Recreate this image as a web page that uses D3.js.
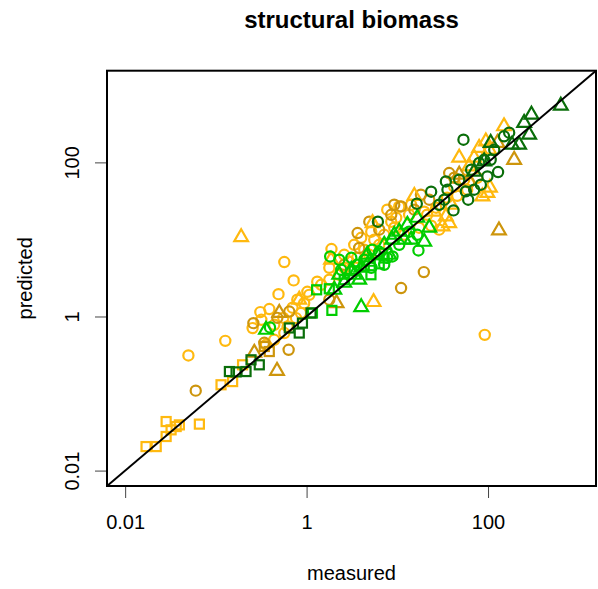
<!DOCTYPE html>
<html>
<head>
<meta charset="utf-8">
<script src="https://cdn.jsdelivr.net/npm/d3@7/dist/d3.min.js"></script>
<style>
  html, body { margin: 0; padding: 0; background: #fff; }
  svg { display: block; }
  text { font-family: "Liberation Sans", Arial, Helvetica, sans-serif; fill: #000; }
</style>
</head>
<body>
<svg id="chart" width="598" height="589"></svg>
<script>
// ---- data: [measured, predicted] ----
const yellowCircles = [
  [0.568, 5.09], [0.72, 2.94], [0.49, 1.95], [0.309, 1.14], [0.388, 1.25], [0.127, 0.483],
  [0.0498, 0.312], [92, 0.578], [1.88, 7.5], [0.254, 0.707], [0.764, 0.953], [0.867, 1.11],
  [0.94, 1.49], [1.07, 1.91], [0.357, 0.429], [0.44, 0.498], [0.568, 0.61], [0.618, 0.741],
  [0.553, 0.96], [10.5, 26.8], [13.5, 20.9], [8.57, 17.0], [7.17, 11.5], [5.57, 9.91],
  [4.32, 7.35], [3.61, 5.78], [2.95, 5.13], [2.6, 4.29], [17.4, 14.2], [21.3, 20.9],
  [26.8, 25.8], [23.6, 15.1], [28.9, 13.4], [11.9, 11.5], [4.91, 6.32], [9.25, 14.2],
  [6.32, 8.53], [2.29, 3.48], [1.78, 4.29], [1.45, 2.58], [42.4, 48.3], [75.9, 63.2],
  [58.9, 44.2], [35.4, 34.8], [3.35, 8.53], [4.0, 10.5], [5.16, 12.6], [7.74, 24.3],
  [9.72, 19.1], [14.2, 28.2], [19.8, 22.9], [1.31, 2.83], [1.02, 2.09], [0.79, 1.65],
  [0.70, 1.30], [0.44, 0.78], [0.317, 0.906], [1.78, 3.0], [2.6, 6.32], [54.6, 59.6],
  [45.7, 36.9]
];
const goldCircles = [
  [0.060, 0.109], [19.6, 3.77], [11.0, 2.34], [0.259, 0.82], [0.634, 0.37], [3.65, 12.1],
  [0.342, 0.456], [0.645, 1.16], [0.476, 0.96], [11.0, 26.8], [18.2, 38.1], [22.5, 32.8],
  [37.3, 72.8], [4.91, 17.0], [6.32, 13.4], [8.57, 20.9], [2.6, 4.69], [3.8, 7.76],
  [9.25, 28.2], [15.4, 24.3], [1.78, 1.65], [61.9, 54.5], [42.4, 63.2]
];
const greenCircles = [
  [2.29, 5.45], [1.82, 6.01], [8.85, 6.01], [17.1, 7.2], [3.11, 5.78], [4.32, 5.45],
  [6.32, 6.92], [10.5, 8.53], [13.5, 12.6], [2.41, 4.04], [0.395, 0.72], [7.17, 4.69],
  [5.29, 7.35], [3.61, 4.69], [7.74, 5.78], [16.6, 11.5], [5.16, 4.29]
];
const darkGreenCircles = [
  [53.6, 197], [129, 75.0], [41.6, 23.8], [60.4, 32.8], [16.4, 29.1], [6.11, 17.0],
  [34.3, 56.6], [70.3, 44.2], [83.3, 51.3], [98.4, 65.8], [79.8, 98.2], [107, 108],
  [150, 218], [56.9, 42.0], [48.1, 59.6], [35.7, 44.2], [32.9, 32.8], [117, 146],
  [65.1, 80.4], [171, 243], [90.6, 108], [28.9, 28.2], [23.6, 41.6]
];
const yellowTriangles = [
  [0.19, 10.7], [5.47, 1.54], [79.8, 154], [94.6, 187], [150, 294], [98.4, 40.1],
  [86.7, 36.2], [105, 46.9], [31.5, 14.8], [37.3, 16.3], [34.3, 19.9], [5.33, 16.3],
  [61.9, 88.7], [48.1, 115], [1.86, 5.45], [0.83, 1.65], [15.4, 36.7], [25.5, 22.9],
  [103, 146], [70.3, 115], [39.3, 28.2]
];
const goldTriangles = [
  [132, 13.1], [194, 108], [0.472, 0.197], [0.50, 1.11], [2.14, 1.49], [0.265, 0.338],
  [127, 179], [48.1, 69.2]
];
const greenTriangles = [
  [4.0, 1.32], [2.02, 2.22], [2.6, 2.74], [3.35, 3.48], [4.0, 4.29], [4.91, 5.13],
  [6.01, 6.32], [7.17, 8.53], [8.79, 9.91], [10.5, 12.6], [12.9, 15.5], [16.6, 19.1],
  [19.8, 9.33], [3.8, 3.0], [8.14, 6.32], [14.2, 9.91], [0.357, 0.672], [2.29, 3.48],
  [3.11, 4.04], [4.66, 6.32], [9.25, 11.5], [11.9, 9.91], [22.5, 14.2]
];
const darkGreenTriangles = [
  [634, 545], [301, 417], [284, 229], [250, 325], [184, 170], [220, 170],
  [107, 179], [90.6, 103], [70.3, 75.7]
];
const yellowSquares = [
  [0.017, 0.0205], [0.022, 0.0205], [0.0283, 0.0277], [0.0321, 0.0338], [0.0365, 0.0373],
  [0.0283, 0.0433], [0.0396, 0.0392], [0.0658, 0.0401], [0.114, 0.130], [0.153, 0.143],
  [0.197, 0.236]
];
const goldSquares = [[0.388, 0.351], [0.342, 0.408]];
const greenSquares = [
  [1.29, 2.22], [1.90, 1.20], [5.12, 3.48], [1.16, 1.11], [1.78, 2.29], [2.60, 3.0],
  [3.35, 3.92], [4.32, 4.55], [6.32, 4.83], [7.16, 5.75]
];
const darkGreenSquares = [
  [0.141, 0.193], [0.167, 0.191], [0.215, 0.193], [0.244, 0.274], [0.301, 0.236],
  [0.83, 0.61], [0.90, 0.82], [1.12, 1.11], [0.645, 0.71]
];

const xTicks = [0.01, 1, 100];
const yTicks = [0.01, 1, 100];
const xTickLabels = ["0.01", "1", "100"];
const yTickLabels = ["0.01", "1", "100"];
const titleText = "structural biomass";
const xTitle = "measured";
const yTitle = "predicted";

const colors = { yellow: "#FFB90F", gold: "#CD950C", green: "#00CD00", darkGreen: "#0A6E0A" };

const series = [
  { data: yellowCircles, shape: "circle", color: colors.yellow },
  { data: yellowSquares, shape: "square", color: colors.yellow },
  { data: goldCircles, shape: "circle", color: colors.gold },
  { data: goldSquares, shape: "square", color: colors.gold },
  { data: yellowTriangles, shape: "triangle", color: colors.yellow },
  { data: goldTriangles, shape: "triangle", color: colors.gold },
  { data: greenCircles, shape: "circle", color: colors.green },
  { data: greenSquares, shape: "square", color: colors.green },
  { data: greenTriangles, shape: "triangle", color: colors.green },
  { data: darkGreenSquares, shape: "square", color: colors.darkGreen },
  { data: darkGreenCircles, shape: "circle", color: colors.darkGreen },
  { data: darkGreenTriangles, shape: "triangle", color: colors.darkGreen }
];

// ---- layout ----
const L = 107, R = 596, T = 70.7, B = 486;
const dom = [Math.pow(10, -2.2), Math.pow(10, 3.19)];
const x = d3.scaleLog().domain(dom).range([L, R]);
const y = d3.scaleLog().domain(dom).range([B, T]);

const svg = d3.select("#chart");

// title
svg.append("text").attr("x", (L + R) / 2).attr("y", 28).attr("text-anchor", "middle")
  .attr("font-size", 24).attr("font-weight", "bold").text(titleText);

// axes (ticks only, like base R)
const xAxis = d3.axisBottom(x).tickValues(xTicks).tickSize(12).tickPadding(24)
  .tickFormat((d, i) => xTickLabels[i]);
const gx = svg.append("g").attr("transform", `translate(0,${B})`).call(xAxis);
gx.select(".domain").remove();
gx.selectAll("line").attr("stroke", "#444");
gx.selectAll("text").attr("font-size", 20).attr("font-family", "Liberation Sans, Arial, sans-serif")
  .attr("dy", 0).attr("y", 43);

const yAxis = d3.axisLeft(y).tickValues(yTicks).tickSize(12).tickFormat((d, i) => yTickLabels[i]);
const gy = svg.append("g").attr("transform", `translate(${L},0)`).call(yAxis);
gy.select(".domain").remove();
gy.selectAll("line").attr("stroke", "#444");
gy.selectAll("text").attr("font-size", 20).attr("font-family", "Liberation Sans, Arial, sans-serif")
  .attr("text-anchor", "middle").attr("x", 0).attr("dy", 0)
  .attr("transform", "translate(-28,0) rotate(-90)");

// axis titles
svg.append("text").attr("x", (L + R) / 2).attr("y", 580).attr("text-anchor", "middle")
  .attr("font-size", 20).text(xTitle);
svg.append("text").attr("transform", `translate(32,${(T + B) / 2}) rotate(-90)`)
  .attr("text-anchor", "middle").attr("font-size", 20).text(yTitle);

// clip
svg.append("clipPath").attr("id", "clip").append("rect")
  .attr("x", L).attr("y", T).attr("width", R - L).attr("height", B - T);

// points
const c = 5.1;
const tri = `M0,${-1.555 * c}L${1.347 * c},${0.778 * c}L${-1.347 * c},${0.778 * c}Z`;
const sq = 0.886 * c;
const gp = svg.append("g").attr("clip-path", "url(#clip)");
series.forEach(s => {
  const g = gp.append("g").attr("fill", "none").attr("stroke", s.color).attr("stroke-width", 2.2);
  s.data.forEach(d => {
    const px = x(d[0]), py = y(d[1]);
    if (s.shape === "circle") {
      g.append("circle").attr("cx", px).attr("cy", py).attr("r", c);
    } else if (s.shape === "square") {
      g.append("rect").attr("x", px - sq).attr("y", py - sq).attr("width", 2 * sq).attr("height", 2 * sq);
    } else {
      g.append("path").attr("d", tri).attr("transform", `translate(${px},${py})`);
    }
  });
});

// 1:1 line
gp.append("line").attr("x1", x(dom[0])).attr("y1", y(dom[0])).attr("x2", x(dom[1])).attr("y2", y(dom[1]))
  .attr("stroke", "#000").attr("stroke-width", 2);

// box
svg.append("rect").attr("x", L).attr("y", T).attr("width", R - L).attr("height", B - T)
  .attr("fill", "none").attr("stroke", "#000").attr("stroke-width", 2);
</script>
</body>
</html>
